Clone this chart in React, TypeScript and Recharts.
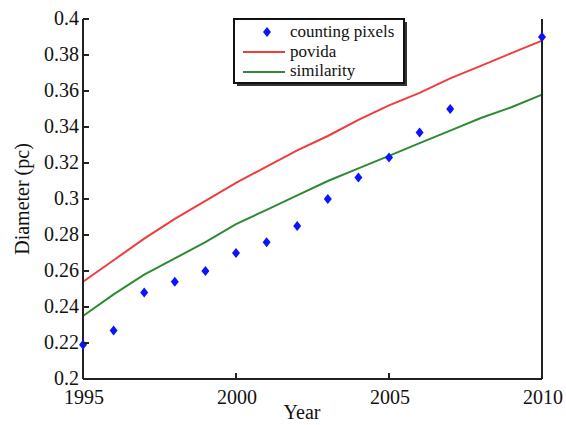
import React from 'react'
import { ComposedChart, Line, Scatter, XAxis, YAxis } from 'recharts'

// values
const years = [1995, 1996, 1997, 1998, 1999, 2000, 2001, 2002, 2003, 2004, 2005, 2006, 2007, 2008, 2009, 2010]
const countingPixels = [0.219, 0.227, 0.248, 0.254, 0.26, 0.27, 0.276, 0.285, 0.3, 0.312, 0.323, 0.337, 0.35, null, null, 0.39]
const povida = [0.254, 0.266, 0.278, 0.289, 0.299, 0.309, 0.318, 0.327, 0.335, 0.344, 0.352, 0.359, 0.367, 0.374, 0.381, 0.388]
const similarity = [0.235, 0.247, 0.258, 0.267, 0.276, 0.286, 0.294, 0.302, 0.31, 0.317, 0.324, 0.331, 0.338, 0.345, 0.351, 0.358]

const xTicks = [1995, 2000, 2005, 2010]
const yTicks = [0.2, 0.22, 0.24, 0.26, 0.28, 0.3, 0.32, 0.34, 0.36, 0.38, 0.4]

const FONT = '"Liberation Serif", "Times New Roman", serif'
const AXIS = '#222'
const RED = '#f03c3c'
const GREEN = '#2f8a34'
const BLUE = '#0a14ff'
const TICK_LEN = 6

const rows = years.map((year, i) => ({
  year,
  counting: countingPixels[i],
  povida: povida[i],
  similarity: similarity[i],
}))
const scatterRows = rows.filter((r) => r.counting !== null)

const Diamond = (props: any) => {
  const { cx, cy } = props
  if (cx == null || cy == null) return null
  return <polygon points={`${cx},${cy - 5} ${cx + 4},${cy} ${cx},${cy + 5} ${cx - 4},${cy}`} fill={BLUE} />
}

const fmtY = (v: number) => String(Number(v.toFixed(2)))

// inward ticks drawn by hand, recharts won't do negative tick sizes
const X_MARGIN = 11
const XTick = (props: any) => {
  const { x, y, payload } = props
  const axisY = y - X_MARGIN
  return (
    <g>
      <line x1={x} x2={x} y1={axisY} y2={axisY - TICK_LEN} stroke={AXIS} strokeWidth={2} />
      <text x={x + 1} y={y} dy="0.71em" textAnchor="middle" fill="#111" fontSize={20} fontFamily={FONT}>
        {payload.value}
      </text>
    </g>
  )
}

const Y_MARGIN = 4
const YTick = (props: any) => {
  const { x, y, payload } = props
  const axisX = x + Y_MARGIN
  return (
    <g>
      <line x1={axisX} x2={axisX + TICK_LEN} y1={y} y2={y} stroke={AXIS} strokeWidth={2} />
      <text x={x} y={y} dy="0.3em" textAnchor="end" fill="#111" fontSize={20} fontFamily={FONT}>
        {fmtY(payload.value)}
      </text>
    </g>
  )
}

const RightTick = (props: any) => {
  const { x, y } = props
  const axisX = x - Y_MARGIN
  return <line x1={axisX} x2={axisX - TICK_LEN} y1={y} y2={y} stroke={AXIS} strokeWidth={2} />
}

function LegendBox() {
  const txt = { fill: '#111', fontSize: 17, fontFamily: FONT }
  return (
    <svg width={566} height={425} style={{ position: 'absolute', left: 0, top: 0, pointerEvents: 'none' }}>
      <rect x={237} y={22} width={170} height={64} fill="#333" />
      <rect x={234} y={19} width={170} height={64} fill="#fff" stroke="#111" strokeWidth={2} />
      <polygon points="267,27 271,32 267,37 263,32" fill={BLUE} />
      <line x1={243} x2={285} y1={52} y2={52} stroke={RED} strokeWidth={2} />
      <line x1={243} x2={285} y1={72} y2={72} stroke={GREEN} strokeWidth={2} />
      <text x={290} y={37} {...txt}>counting pixels</text>
      <text x={290} y={57} {...txt}>povida</text>
      <text x={290} y={76} {...txt}>similarity</text>
    </svg>
  )
}

export default function App() {
  return (
    <div style={{ position: 'absolute', left: 0, top: 0, width: 566, height: 425, background: '#fff' }}>
      <ComposedChart width={566} height={425} data={rows} margin={{ top: 19, right: 0, bottom: 0, left: 0 }}>
        <XAxis
          dataKey="year"
          type="number"
          domain={[1995, 2010]}
          ticks={xTicks}
          height={46}
          tickSize={0}
          tickMargin={X_MARGIN}
          interval={0}
          axisLine={{ stroke: AXIS, strokeWidth: 2 }}
          tickLine={false}
          tick={<XTick />}
          label={{
            content: () => (
              <text x={302} y={419} textAnchor="middle" fill="#111" fontSize={20} fontFamily={FONT}>
                Year
              </text>
            ),
          }}
        />
        <XAxis
          xAxisId="top"
          orientation="top"
          dataKey="year"
          type="number"
          domain={[1995, 2010]}
          height={0}
          tick={false}
          tickLine={false}
          axisLine={{ stroke: AXIS, strokeWidth: 2 }}
        />
        <YAxis
          type="number"
          domain={[0.2, 0.4]}
          ticks={yTicks}
          width={83}
          tickSize={0}
          tickMargin={Y_MARGIN}
          interval={0}
          axisLine={{ stroke: AXIS, strokeWidth: 2 }}
          tickLine={false}
          tick={<YTick />}
          label={{
            content: () => (
              <text
                x={24}
                y={199}
                transform="rotate(-90 24 199)"
                textAnchor="middle"
                dominantBaseline="middle"
                fill="#111"
                fontSize={20}
                fontFamily={FONT}
              >
                Diameter (pc)
              </text>
            ),
          }}
        />
        <YAxis
          yAxisId="right"
          orientation="right"
          type="number"
          domain={[0.2, 0.4]}
          ticks={yTicks}
          width={24}
          tickSize={0}
          tickMargin={Y_MARGIN}
          interval={0}
          tickLine={false}
          tick={<RightTick />}
          axisLine={{ stroke: AXIS, strokeWidth: 2 }}
        />
        <Line type="linear" dataKey="povida" stroke={RED} strokeWidth={2} dot={false} isAnimationActive={false} />
        <Line type="linear" dataKey="similarity" stroke={GREEN} strokeWidth={2} dot={false} isAnimationActive={false} />
        <Scatter data={scatterRows} dataKey="counting" shape={<Diamond />} isAnimationActive={false} />
      </ComposedChart>
      <LegendBox />
    </div>
  )
}
